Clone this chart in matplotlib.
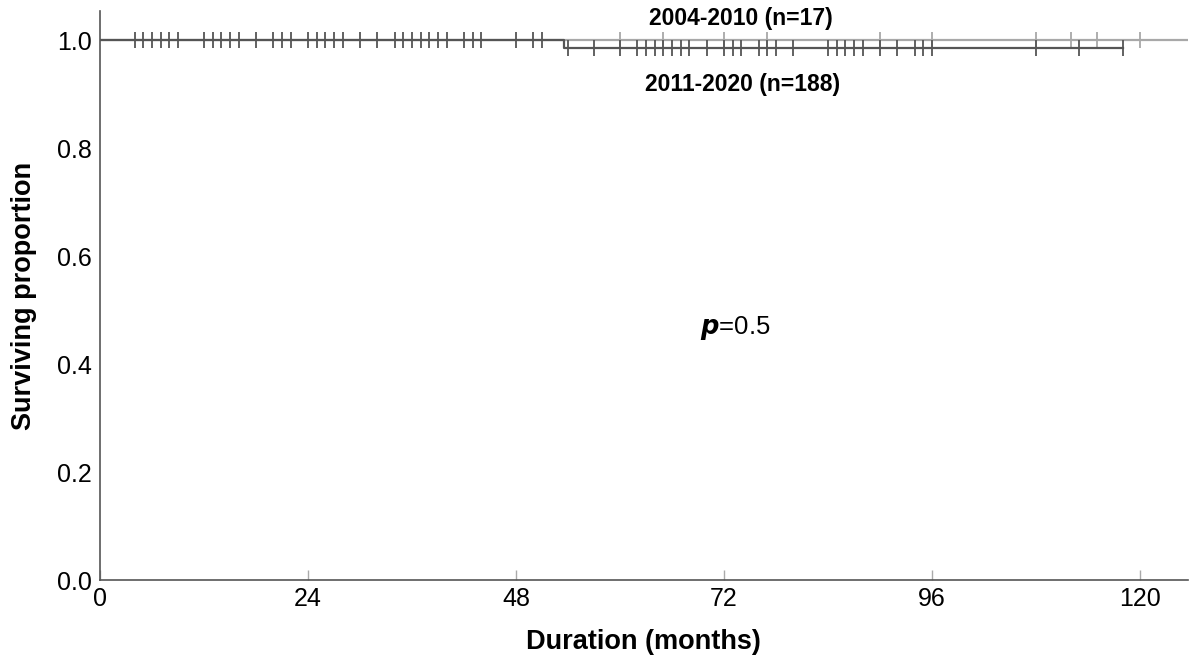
import numpy as np
import matplotlib
matplotlib.use("Agg")
import matplotlib.pyplot as plt

plt.rcParams['font.family'] = ['Liberation Sans', 'DejaVu Sans']

# ---- data ----
group_labels = ["2004-2010 (n=17)", "2011-2020 (n=188)"]
early_times = [0, 127]
early_surv = [1.0, 1.0]
early_censor = [60, 65, 72, 77, 90, 96, 108, 112, 115, 120]

late_times = [0, 53.6, 118]
late_surv = [1.0, 0.985, 0.985]
late_censor = [4, 5, 6, 7, 8, 9, 12, 13, 14, 15, 16, 18, 20, 21, 22,
               24, 25, 26, 27, 28, 30, 32, 34, 35, 36, 37, 38, 39, 40,
               42, 43, 44, 48, 50, 51,
               54, 57, 60, 62, 63, 64, 65, 66, 67, 68, 70, 72, 73, 74,
               76, 77, 78, 80, 84, 85, 86, 87, 88, 90, 92, 94, 95, 96,
               108, 113, 118]
p_value = "0.5"
x_ticks = [0, 24, 48, 72, 96, 120]
y_ticks = [0.0, 0.2, 0.4, 0.6, 0.8, 1.0]


def step_value(times, surv, t):
    idx = np.searchsorted(times, t, side='right') - 1
    return np.asarray(surv)[idx]


fig = plt.figure(figsize=(11.9, 6.58), dpi=100)
ax = fig.add_axes([0.084, 0.1185, 0.914, 0.8645])

light = '#a8a8a8'
dark = '#555555'

ax.plot(early_times, early_surv, drawstyle='steps-post', color=light, lw=1.6, zorder=2)
ax.plot(early_censor, step_value(early_times, early_surv, early_censor), ls='none',
        marker='|', ms=11, mew=1.3, color=light, zorder=2)
ax.plot(late_times, late_surv, drawstyle='steps-post', color=dark, lw=1.6, zorder=3)
ax.plot(late_censor, step_value(late_times, late_surv, late_censor), ls='none',
        marker='|', ms=11, mew=1.3, color=dark, zorder=3)

ax.set_xlim(0, 125.5)
ax.set_ylim(0, 1.054)
ax.set_xticks(x_ticks)
ax.set_xticklabels([str(v) for v in x_ticks])
ax.set_yticks(y_ticks)
ax.set_yticklabels([f"{v:.1f}" for v in y_ticks])

for s in ['top', 'right']:
    ax.spines[s].set_visible(False)
for s in ['left', 'bottom']:
    ax.spines[s].set_color('#555555')
    ax.spines[s].set_linewidth(1.2)

ax.tick_params(axis='x', direction='in', length=7, width=1, color='#aaaaaa',
               labelsize=18, pad=5)
ax.tick_params(axis='y', length=0, labelsize=18, pad=6)

ax.set_xlabel("Duration (months)", fontsize=19.5, fontweight='bold', labelpad=13)
ax.set_ylabel("Surviving proportion", fontsize=19.5, fontweight='bold', labelpad=14)

ax.text(73.9, 1.041, group_labels[0], ha='center', va='center', fontsize=16.5,
        fontweight='bold', clip_on=False)
ax.text(74.2, 0.9185, group_labels[1], ha='center', va='center', fontsize=16.5,
        fontweight='bold')
ax.text(73.3, 0.467, r"$\mathbfit{p}$" + "=" + p_value, ha='center', va='center',
        fontsize=18.5)

fig.savefig("out.png", dpi=100)
